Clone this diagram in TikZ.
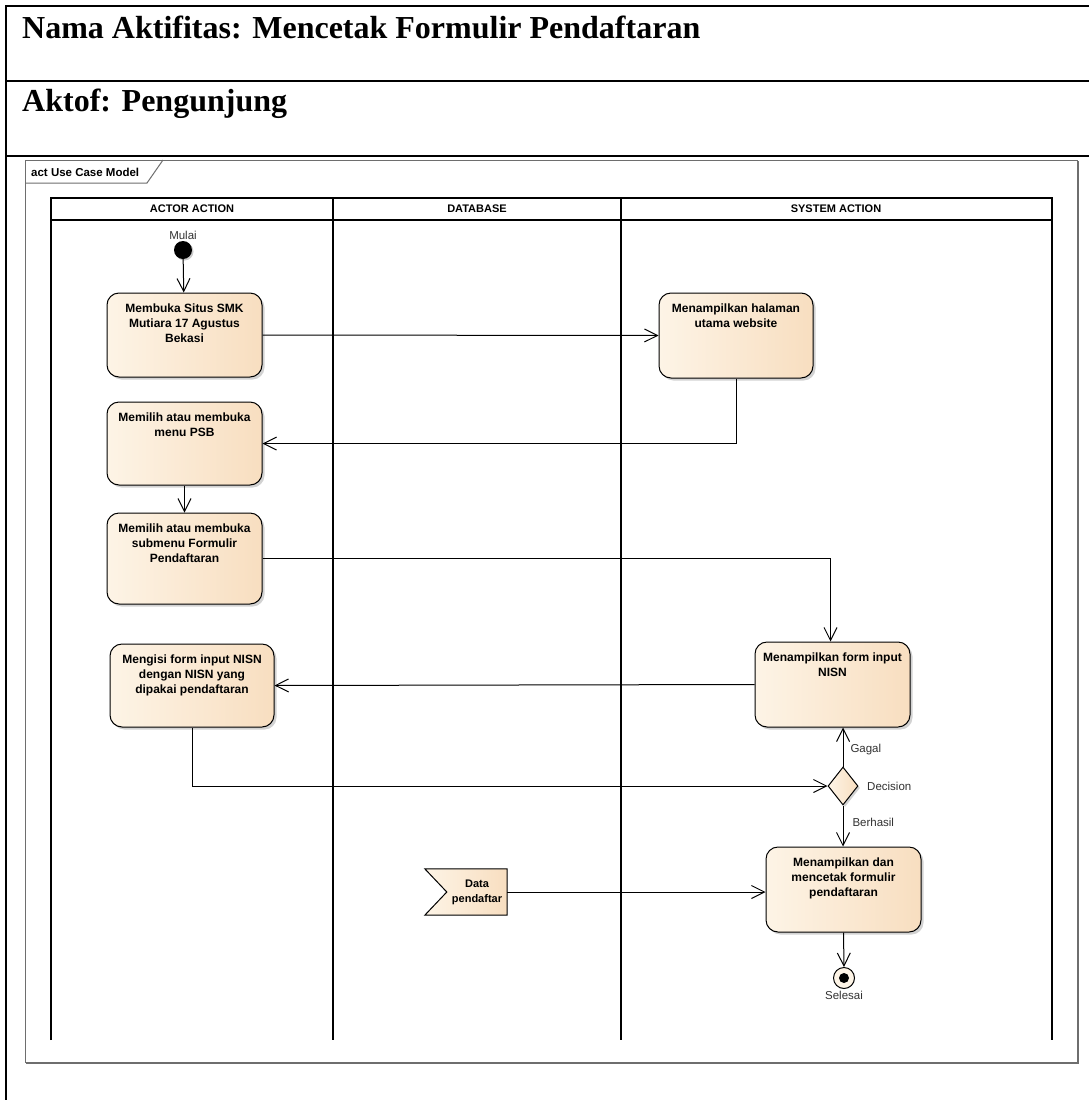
\documentclass[tikz,border=0pt]{standalone}
\usepackage{fontspec}
\setmainfont{Liberation Serif}
\setsansfont{Liberation Sans}
\usetikzlibrary{arrows.meta,shapes.geometric,shadows,calc}
\pgfdeclarelayer{background}
\pgfdeclarelayer{paper}
\pgfsetlayers{paper,background,main}

\definecolor{boxL}{RGB}{253,244,230}
\definecolor{boxR}{RGB}{248,222,192}
\definecolor{framegray}{RGB}{110,110,110}
\definecolor{labelgray}{RGB}{50,50,50}

\tikzset{
  actbox/.style={draw, line width=1pt, rounded corners=12pt,
    left color=boxL, right color=boxR,
    drop shadow={shadow xshift=2.5pt, shadow yshift=-2.5pt, fill=black!35, opacity=0.5}},
  boxtext/.style={font=\sffamily\bfseries\fontsize{12}{15}\selectfont,
    align=center, anchor=north, inner sep=0pt, yshift=-11pt},
  lbl/.style={font=\sffamily\fontsize{11.5}{13}\selectfont, text=labelgray, inner sep=1pt},
  lanehead/.style={font=\sffamily\bfseries\fontsize{11}{13}\selectfont},
  title/.style={font=\bfseries\fontsize{32}{36}\selectfont, anchor=base west, inner sep=0pt},
  flow/.style={draw, line width=1pt,
    -{Straight Barb[length=13pt,width=13pt,line width=1pt]}},
}

\begin{document}
\begin{tikzpicture}[x=1pt,y=-1pt]
\useasboundingbox (0,0) rectangle (1089,1100);
\begin{pgfonlayer}{paper}
\fill[white] (0,0) rectangle (1089,1100);
\end{pgfonlayer}

% form header
\draw[line width=1.2pt] (6,1100) -- (6,6) -- (1089,6);
\draw[line width=1.2pt] (6,81) -- (1089,81);
\draw[line width=1.2pt] (6,156) -- (1089,156);
\node[title] (t1) at (22,38) {Nama Aktifitas: Mencetak Formulir Pendaftaran};
\node[title] (t2) at (22,111) {Aktof: Pengunjung};

% diagram frame with its name tab
\draw[framegray, line width=2pt] (1078,161) -- (1078,1063) -- (26,1063);
\draw[framegray, line width=1pt] (25,160) rectangle (1077,1062);
\draw[framegray, line width=1pt] (25,183) -- (147,183) -- (163,160);
\node[font=\sffamily\bfseries\fontsize{11.5}{13}\selectfont, anchor=west, inner sep=0pt]
  (frametab) at (31,172) {act Use Case Model};

% swimlanes
\draw[line width=1.3pt] (51,1040) -- (51,198) -- (1052,198) -- (1052,1040);
\draw[line width=1.3pt] (51,220) -- (1052,220);
\draw[line width=1.3pt] (333,198) -- (333,1040);
\draw[line width=1.3pt] (621,198) -- (621,1040);
\node[lanehead] (h1) at (192,209) {ACTOR ACTION};
\node[lanehead] (h2) at (477,209) {DATABASE};
\node[lanehead] (h3) at (836,209) {SYSTEM ACTION};

% initial and final nodes
\node[circle, fill=black, minimum size=18pt, inner sep=0pt,
  drop shadow={shadow xshift=1.5pt, shadow yshift=-1.5pt, fill=black!40, opacity=0.5},
  label={[lbl, label distance=0pt]above:Mulai}] (start) at (183,250) {};
\node[circle, draw, line width=1pt, fill=boxL, minimum size=21pt, inner sep=0pt,
  label={[lbl, label distance=1pt]below:Selesai}] (end) at (844,978) {};
\fill (end.center) circle (5pt);

% actions
\node[actbox, minimum width=155pt, minimum height=84pt,
  label={[boxtext]north:Membuka Situs SMK\\Mutiara 17 Agustus\\Bekasi}] (b1) at (184.5,335) {};
\node[actbox, minimum width=154pt, minimum height=85pt,
  label={[boxtext]north:Menampilkan halaman\\utama website}] (s1) at (736,335.5) {};
\node[actbox, minimum width=155pt, minimum height=83pt,
  label={[boxtext]north:Memilih atau membuka\\menu PSB}] (b2) at (184.5,443.5) {};
\node[actbox, minimum width=155pt, minimum height=91pt,
  label={[boxtext]north:Memilih atau membuka\\submenu Formulir\\Pendaftaran}] (b3) at (184.5,558.5) {};
\node[actbox, minimum width=155pt, minimum height=85pt,
  label={[boxtext]north:Menampilkan form input\\NISN}] (s2) at (832.5,684.5) {};
\node[actbox, minimum width=164pt, minimum height=83pt,
  label={[boxtext]north:Mengisi form input NISN\\dengan NISN yang\\dipakai pendaftaran}] (b4) at (192,685.5) {};
\node[actbox, minimum width=155pt, minimum height=85pt,
  label={[boxtext]north:Menampilkan dan\\mencetak formulir\\pendaftaran}] (s3) at (843.5,889.5) {};

% decision
\node[diamond, draw, line width=1pt, left color=boxL, right color=boxR,
  minimum width=30pt, minimum height=38pt, inner sep=0pt,
  drop shadow={shadow xshift=2pt, shadow yshift=-2pt, fill=black!35, opacity=0.5}]
  (dec) at (843,786) {};
\node[lbl, anchor=west] (declbl) at (866,786) {Decision};

% data signal
\node[font=\sffamily\bfseries\fontsize{11}{15}\selectfont, align=center,
  minimum width=60pt, minimum height=46pt, inner sep=0pt] (data) at (477,892) {Data\\pendaftar};
\begin{pgfonlayer}{background}
\fill[black!35, opacity=0.5, shift={(2.5,2.5)}]
  (data.north east) -- (data.south east) -- ([xshift=-22pt]data.south west)
  -- (data.west) -- ([xshift=-22pt]data.north west) -- cycle;
\draw[line width=1pt, left color=boxL, right color=boxR]
  (data.north east) -- (data.south east) -- ([xshift=-22pt]data.south west)
  -- (data.west) -- ([xshift=-22pt]data.north west) -- cycle;
\end{pgfonlayer}

% control flows
\draw[flow] (start) -- (b1);
\draw[flow] (b1.east) -- (s1.west);
\draw[flow] (s1.south) |- (b2.east);
\draw[flow] (b2.south) -- (b3.north);
\draw[flow] (b3.east) -| ([xshift=-2pt]s2.north);
\draw[flow] (s2.west) -- (b4.east);
\draw[flow] (b4.south) |- (dec.west);
\draw[flow] (dec.north) -- (dec.north |- s2.south)
  node[lbl, pos=0.5, anchor=west, xshift=6pt, yshift=-3pt] {Gagal};
\draw[flow] (dec.south) -- (dec.south |- s3.north)
  node[lbl, pos=0.4, anchor=west, xshift=8pt] {Berhasil};
\draw[flow] (data.east) -- (data.east -| s3.west);
\draw[flow] (s3.south) -- (end.north);
\end{tikzpicture}
\end{document}
